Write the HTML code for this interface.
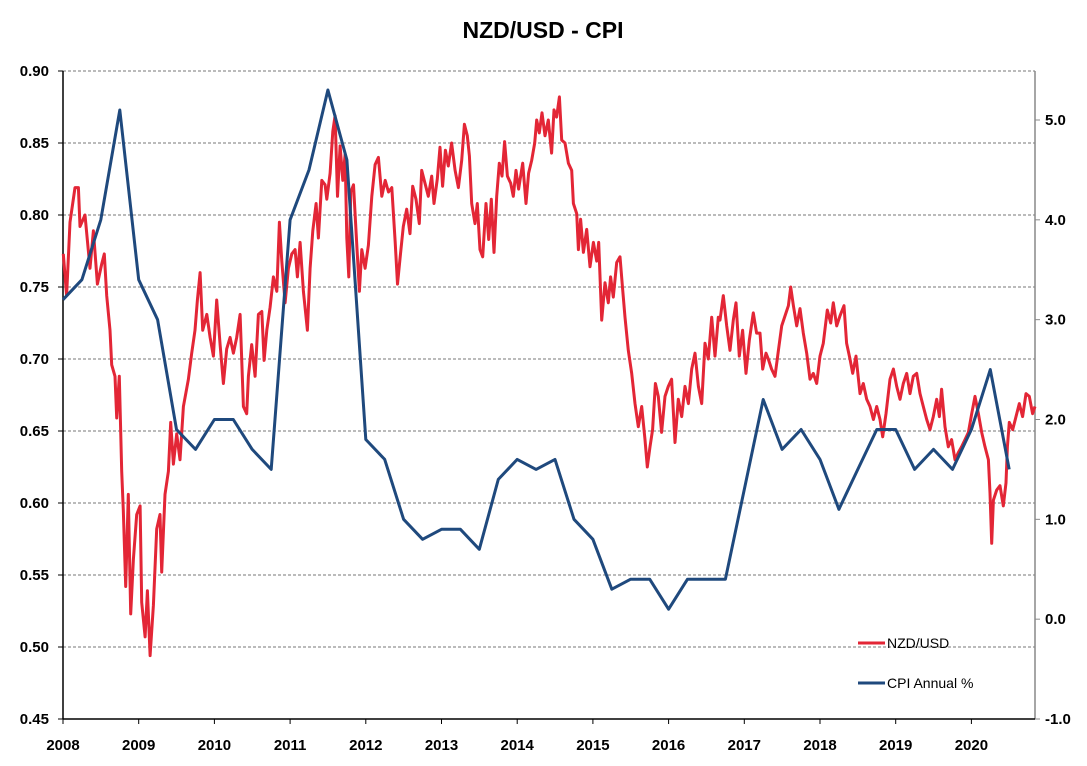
<!DOCTYPE html>
<html><head><meta charset="utf-8"><style>
body{margin:0;background:#fff;}
svg text{font-family:"Liberation Sans",Arial,sans-serif;}
</style></head><body>
<svg id="chart" width="1087" height="761" viewBox="0 0 1087 761" xmlns="http://www.w3.org/2000/svg">
<text x="543" y="38" text-anchor="middle" font-size="23" font-weight="bold">NZD/USD - CPI</text>
<g id="grid"></g>
<g id="axes"></g>
<g id="series"></g>
<g>
<line x1="858" y1="643" x2="885" y2="643" stroke="#e32636" stroke-width="3"/>
<text x="887" y="648" font-size="14">NZD/USD</text>
<line x1="858" y1="683" x2="885" y2="683" stroke="#1f497d" stroke-width="3"/>
<text x="887" y="688" font-size="14">CPI Annual %</text>
</g>
</svg>
<script>
const yearsSince2008 = [0.004,0.048,0.093,0.159,0.203,0.225,0.291,0.357,0.401,0.454,0.511,0.546,0.577,0.621,0.643,0.687,0.709,0.744,0.775,0.797,0.828,0.863,0.894,0.930,0.974,1.018,1.040,1.084,1.115,1.150,1.194,1.238,1.282,1.304,1.348,1.392,1.423,1.458,1.502,1.546,1.590,1.656,1.700,1.744,1.775,1.811,1.846,1.899,1.943,1.987,2.031,2.075,2.119,2.163,2.207,2.251,2.295,2.339,2.383,2.427,2.449,2.493,2.537,2.581,2.626,2.656,2.692,2.736,2.780,2.824,2.859,2.890,2.934,2.978,3.022,3.066,3.097,3.132,3.176,3.229,3.264,3.300,3.344,3.374,3.419,3.463,3.485,3.529,3.564,3.595,3.626,3.661,3.696,3.727,3.749,3.775,3.802,3.837,3.881,3.916,3.947,3.991,4.035,4.079,4.123,4.167,4.211,4.256,4.300,4.344,4.388,4.419,4.454,
4.496,4.540,4.584,4.619,4.663,4.707,4.738,4.782,4.826,4.870,4.901,4.945,4.980,5.015,5.051,5.090,5.134,5.179,5.223,5.267,5.302,5.341,5.368,5.399,5.443,5.473,5.509,5.544,5.588,5.623,5.658,5.693,5.729,5.764,5.799,5.834,5.870,5.914,5.949,5.984,6.019,6.072,6.116,6.151,6.191,6.231,6.257,6.292,6.328,6.367,6.411,6.455,6.486,6.521,6.557,6.588,6.632,6.676,6.720,6.742,6.786,6.808,6.838,6.874,6.918,6.962,7.006,7.050,7.076,7.116,7.160,7.204,7.234,7.270,7.314,7.358,7.393,7.424,7.468,7.512,7.556,7.600,7.644,7.688,7.719,7.754,7.789,7.825,7.864,7.908,7.952,7.996,8.040,8.084,8.128,8.173,8.217,8.261,8.305,8.349,8.393,8.437,8.481,8.525,8.569,8.613,8.657,
8.679,8.723,8.767,8.811,8.855,8.890,8.934,8.978,9.022,9.066,9.119,9.163,9.207,9.243,9.287,9.317,9.361,9.405,9.450,9.494,9.551,9.582,9.613,9.648,9.692,9.736,9.780,9.824,9.868,9.912,9.956,10.000,10.044,10.097,10.141,10.176,10.220,10.264,10.317,10.352,10.396,10.432,10.476,10.528,10.572,10.617,10.661,10.705,10.749,10.793,10.828,10.872,10.925,10.969,11.013,11.057,11.101,11.145,11.189,11.233,11.277,11.321,11.365,11.409,11.453,11.497,11.541,11.577,11.607,11.651,11.695,11.739,11.783,11.827,11.871,11.916,11.960,12.004,12.048,12.092,12.136,12.180,12.224,12.246,12.268,12.290,12.334,12.378,12.422,12.457,12.475,12.501,12.545,12.589,12.633,12.677,12.721,12.765,12.809,12.840];
const nzdUsd = [0.773,0.744,0.795,0.819,0.819,0.792,0.80,0.763,0.789,0.752,0.766,0.773,0.744,0.72,0.696,0.688,0.659,0.688,0.622,0.595,0.542,0.606,0.523,0.561,0.592,0.598,0.531,0.507,0.539,0.494,0.529,0.582,0.592,0.552,0.606,0.622,0.656,0.627,0.648,0.630,0.667,0.686,0.704,0.72,0.741,0.76,0.72,0.731,0.715,0.702,0.741,0.71,0.683,0.707,0.715,0.704,0.715,0.731,0.667,0.662,0.688,0.71,0.688,0.731,0.733,0.699,0.72,0.736,0.757,0.747,0.795,0.768,0.739,0.763,0.773,0.776,0.757,0.781,0.747,0.72,0.763,0.789,0.808,0.784,0.824,0.821,0.811,0.829,0.858,0.869,0.813,0.848,0.824,0.842,0.784,0.757,0.816,0.821,0.779,0.747,0.776,0.763,0.779,0.813,0.835,0.84,0.813,0.824,0.816,0.819,0.781,0.752,0.771,
0.792,0.804,0.787,0.82,0.811,0.794,0.831,0.822,0.813,0.827,0.808,0.825,0.847,0.82,0.845,0.834,0.85,0.831,0.819,0.838,0.863,0.855,0.841,0.808,0.794,0.808,0.776,0.771,0.808,0.783,0.811,0.774,0.813,0.836,0.827,0.851,0.827,0.822,0.813,0.831,0.818,0.836,0.808,0.829,0.838,0.85,0.866,0.857,0.871,0.855,0.866,0.843,0.873,0.868,0.882,0.852,0.85,0.836,0.831,0.808,0.801,0.776,0.797,0.774,0.79,0.764,0.781,0.768,0.781,0.727,0.753,0.739,0.757,0.743,0.767,0.771,0.748,0.729,0.706,0.69,0.669,0.653,0.667,0.644,0.625,0.639,0.651,0.683,0.674,0.649,0.674,0.681,0.686,0.642,0.672,0.66,0.681,0.669,0.693,0.704,0.681,0.669,0.711,0.70,0.729,0.702,0.729,
0.727,0.744,0.723,0.706,0.727,0.739,0.702,0.72,0.69,0.713,0.732,0.718,0.718,0.693,0.704,0.70,0.693,0.688,0.706,0.723,0.732,0.737,0.75,0.737,0.723,0.735,0.718,0.704,0.686,0.69,0.683,0.702,0.711,0.734,0.725,0.739,0.723,0.73,0.737,0.711,0.70,0.69,0.702,0.676,0.683,0.672,0.667,0.658,0.667,0.658,0.646,0.662,0.686,0.693,0.681,0.672,0.683,0.69,0.676,0.688,0.69,0.676,0.667,0.658,0.651,0.66,0.672,0.66,0.679,0.653,0.639,0.644,0.63,0.635,0.639,0.644,0.649,0.662,0.674,0.662,0.649,0.639,0.63,0.607,0.572,0.602,0.609,0.612,0.598,0.614,0.639,0.656,0.651,0.66,0.669,0.66,0.676,0.674,0.662,0.667];
const cpiQuarter = ['2007Q4','2008Q1','2008Q2','2008Q3','2008Q4','2009Q1','2009Q2','2009Q3','2009Q4','2010Q1','2010Q2','2010Q3','2010Q4','2011Q1','2011Q2','2011Q3','2011Q4','2012Q1','2012Q2','2012Q3','2012Q4','2013Q1','2013Q2','2013Q3','2013Q4','2014Q1','2014Q2','2014Q3','2014Q4','2015Q1','2015Q2','2015Q3','2015Q4','2016Q1','2016Q2','2016Q3','2016Q4','2017Q1','2017Q2','2017Q3','2017Q4','2018Q1','2018Q2','2018Q3','2018Q4','2019Q1','2019Q2','2019Q3','2019Q4','2020Q1','2020Q2'];
const cpiAnnual = [3.2,3.4,4.0,5.1,3.4,3.0,1.9,1.7,2.0,2.0,1.7,1.5,4.0,4.5,5.3,4.6,1.8,1.6,1.0,0.8,0.9,0.9,0.7,1.4,1.6,1.5,1.6,1.0,0.8,0.3,0.4,0.4,0.1,0.4,0.4,0.4,1.3,2.2,1.7,1.9,1.6,1.1,1.5,1.9,1.9,1.5,1.7,1.5,1.9,2.5,1.5];
const leftTicks = ['0.45','0.50','0.55','0.60','0.65','0.70','0.75','0.80','0.85','0.90'];
const rightTicks = ['-1.0','0.0','1.0','2.0','3.0','4.0','5.0'];
const yearTicks = ['2008','2009','2010','2011','2012','2013','2014','2015','2016','2017','2018','2019','2020'];

const NS='http://www.w3.org/2000/svg';
const X0=63, X1=1035, Y0=71, Y1=719;
const T0=2008, T1=2008+(X1-X0)/75.7;
const xScale = t => X0 + (t - T0)/(T1 - T0)*(X1 - X0);
const yLeft = v => Y1 - (v - 0.45)/(0.90-0.45)*(Y1 - Y0);
const yRight = v => Y1 - (v + 1.0)/(6.0)*(Y1 - 120) ;
function mk(tag, attrs, parent){const e=document.createElementNS(NS,tag);for(const k in attrs)e.setAttribute(k,attrs[k]);parent.appendChild(e);return e;}
const grid=document.getElementById('grid'), axes=document.getElementById('axes'), series=document.getElementById('series');

leftTicks.forEach(s=>{
  const y=yLeft(parseFloat(s));
  if(parseFloat(s)>0.451){
    const g=mk('line',{x1:X0,x2:X1,y1:y,y2:y,stroke:'#777','stroke-width':1,'stroke-dasharray':'3,2'},grid);
    
    
  }
  const tk=mk('line',{x1:X0-5,x2:X0,y1:y,y2:y,stroke:'#000','stroke-width':1},axes);
  
  
  const t=mk('text',{x:X0-14,y:y+5,'text-anchor':'end','font-size':15,'font-weight':'bold'},axes);
  t.textContent=s;
  
  
});
rightTicks.forEach(s=>{
  const y=yRight(parseFloat(s));
  const tk=mk('line',{x1:X1,x2:X1+5,y1:y,y2:y,stroke:'#888','stroke-width':1},axes);
  
  
  const t=mk('text',{x:X1+10,y:y+5,'text-anchor':'start','font-size':15,'font-weight':'bold'},axes);
  t.textContent=s;
  
  
});
yearTicks.forEach(s=>{
  const x=xScale(parseFloat(s));
  const tk=mk('line',{x1:x,x2:x,y1:Y1,y2:Y1+5,stroke:'#000','stroke-width':1},axes);
  
  
  const t=mk('text',{x:x,y:750,'text-anchor':'middle','font-size':15,'font-weight':'bold'},axes);
  t.textContent=s;
  
  
});
const la=mk('line',{x1:X0,x2:X0,y1:Y0,y2:Y1,stroke:'#000','stroke-width':1.5},axes);


const ra=mk('line',{x1:X1,x2:X1,y1:Y0,y2:Y1,stroke:'#888','stroke-width':1.5},axes);


const ba=mk('line',{x1:X0,x2:X1,y1:Y1,y2:Y1,stroke:'#000','stroke-width':1.5},axes);



const redPts=nzdUsd.map((v,i)=>xScale(2008+yearsSince2008[i]).toFixed(1)+','+yLeft(v).toFixed(1)).join(' ');
const red=mk('polyline',{points:redPts,fill:'none',stroke:'#e32636','stroke-width':3,'stroke-linejoin':'round'},series);



const qToYear = q => parseInt(q.slice(0,4)) + parseInt(q.slice(5))/4;
const bluePts=cpiAnnual.map((v,i)=>xScale(qToYear(cpiQuarter[i])).toFixed(1)+','+yRight(v).toFixed(1)).join(' ');
const blue=mk('polyline',{points:bluePts,fill:'none',stroke:'#1f497d','stroke-width':3,'stroke-linejoin':'round'},series);


</script>
</body></html>
